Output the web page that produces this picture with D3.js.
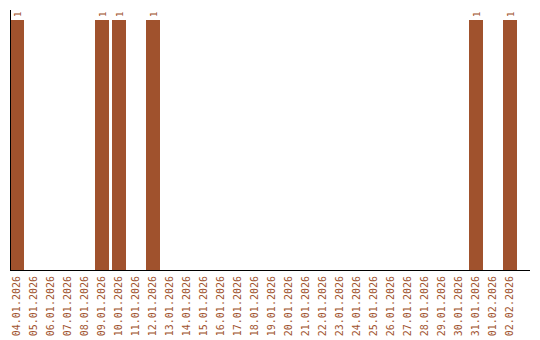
<!DOCTYPE html>
<html>
<head>
<meta charset="utf-8">
<script src="https://cdn.jsdelivr.net/npm/d3@7"></script>
<style>
  body { margin: 0; background: #fff; }
  svg { display: block; }
</style>
</head>
<body>
<script>
// one column per day, value = count
var days = ['04.01.2026','05.01.2026','06.01.2026','07.01.2026','08.01.2026','09.01.2026',
    '10.01.2026','11.01.2026','12.01.2026','13.01.2026','14.01.2026','15.01.2026',
    '16.01.2026','17.01.2026','18.01.2026','19.01.2026','20.01.2026','21.01.2026',
    '22.01.2026','23.01.2026','24.01.2026','25.01.2026','26.01.2026','27.01.2026',
    '28.01.2026','29.01.2026','30.01.2026','31.01.2026','01.02.2026','02.02.2026'];
var counts = [1,0,0,0,0,1,1,0,1,0,0,0,0,0,0,0,0,0,0,0,0,0,0,0,0,0,0,1,0,1];

var color = '#a0522d';
var margin = { top: 10, left: 10, right: 10, bottom: 70 },
    width = 540,
    height = 340;

var svg = d3.select('body')
    .append('svg')
    .attr('width', width)
    .attr('height', height);

var x = d3.scaleBand()
    .domain(days)
    .range([margin.left, margin.left + 17 * days.length])
    .padding(0);

var y = d3.scaleLinear()
    .domain([0, 1.04])
    .range([height - margin.bottom, margin.top]);

var data = days.map(function(d, i) { return { day: d, value: counts[i] }; });

svg.append('g')
    .selectAll('rect')
    .data(data.filter(function(d) { return d.value > 0; }))
    .enter()
    .append('rect')
    .attr('x', function(d) { return x(d.day); })
    .attr('y', function(d) { return y(d.value); })
    .attr('width', x.bandwidth() - 3)
    .attr('height', function(d) { return y(0) - y(d.value); })
    .attr('fill', color);

// value labels, rotated
svg.append('g')
    .selectAll('text')
    .data(data.filter(function(d) { return d.value > 0; }))
    .enter()
    .append('text')
    .attr('transform', function(d) {
        return 'translate(' + (x(d.day) + (x.bandwidth() - 3) / 2 + 3.5) + ',' + (y(d.value) - 3) + ') rotate(-90)';
    })
    .attr('font-family', 'DejaVu Sans Mono, monospace')
    .attr('font-size', '9px')
    .attr('fill', color)
    .text(function(d) { return d.value; });

// x axis
var xAxis = svg.append('g')
    .attr('transform', 'translate(0,' + y(0) + ')')
    .call(d3.axisBottom(x).tickSize(0).tickPadding(0));
xAxis.select('.domain').remove();
xAxis.selectAll('text')
    .attr('font-family', 'DejaVu Sans Mono, monospace')
    .attr('font-size', '10px')
    .attr('fill', color)
    .attr('text-anchor', 'end')
    .attr('dy', null)
    .attr('y', 0)
    .attr('transform', 'translate(-1.5,6) rotate(-90)')
    .attr('dominant-baseline', 'middle');

svg.append('line')
    .attr('x1', margin.left)
    .attr('x2', width - margin.right)
    .attr('y1', y(0) + 0.5)
    .attr('y2', y(0) + 0.5)
    .attr('stroke', '#000');

svg.append('line')
    .attr('x1', margin.left + 0.5)
    .attr('x2', margin.left + 0.5)
    .attr('y1', margin.top)
    .attr('y2', y(0))
    .attr('stroke', '#000');
</script>
</body>
</html>
